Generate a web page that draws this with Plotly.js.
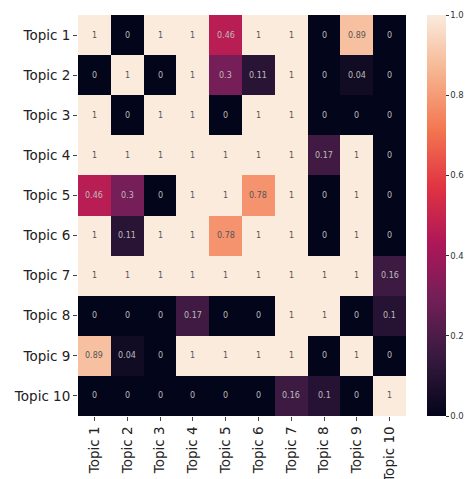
<!DOCTYPE html>
<html>
<head>
<meta charset="utf-8">
<script src="https://cdn.plot.ly/plotly-3.0.1.min.js"></script>
<style>html,body{margin:0;padding:0;background:#fff;}#chart{width:467px;height:479px;}</style>
</head>
<body>
<div id="chart"></div>
<script>
const topics = ["Topic 1","Topic 2","Topic 3","Topic 4","Topic 5","Topic 6","Topic 7","Topic 8","Topic 9","Topic 10"];
const row1  = [1, 0, 1, 1, 0.46, 1, 1, 0, 0.89, 0];
const row2  = [0, 1, 0, 1, 0.3, 0.11, 1, 0, 0.04, 0];
const row3  = [1, 0, 1, 1, 0, 1, 1, 0, 0, 0];
const row4  = [1, 1, 1, 1, 1, 1, 1, 0.17, 1, 0];
const row5  = [0.46, 0.3, 0, 1, 1, 0.78, 1, 0, 1, 0];
const row6  = [1, 0.11, 1, 1, 0.78, 1, 1, 0, 1, 0];
const row7  = [1, 1, 1, 1, 1, 1, 1, 1, 1, 0.16];
const row8  = [0, 0, 0, 0.17, 0, 0, 1, 1, 0, 0.1];
const row9  = [0.89, 0.04, 0, 1, 1, 1, 1, 0, 1, 0];
const row10 = [0, 0, 0, 0, 0, 0, 0.16, 0.1, 0, 1];
const z = [row1,row2,row3,row4,row5,row6,row7,row8,row9,row10];
const cbTicks = [0, 0.2, 0.4, 0.6, 0.8, 1.0];

const rocket = [
  [0.0, "#03051A"], [0.143, "#35193E"], [0.286, "#701F57"], [0.429, "#AD1759"],
  [0.571, "#E13342"], [0.714, "#F37651"], [0.857, "#F6B48F"], [1.0, "#FAEBDD"]
];

const annotations = [];
z.forEach((row, i) => row.forEach((v, j) => {
  annotations.push({
    x: topics[j], y: topics[i], xref: "x", yref: "y",
    text: String(v), showarrow: false,
    font: {family: "DejaVu Sans", size: 8, color: v > 0.6 ? "#555555" : "#bbbbbb"}
  });
}));

const trace = {
  type: "heatmap", x: topics, y: topics, z: z,
  colorscale: rocket, zmin: 0, zmax: 1, xgap: 0, ygap: 0,
  hoverinfo: "skip",
  colorbar: {
    x: 1.064, xanchor: "left", xref: "paper", y: 0.5, yanchor: "middle",
    xpad: 0, ypad: 0,
    len: 1, lenmode: "fraction", thickness: 19, thicknessmode: "pixels",
    outlinewidth: 0, tickvals: cbTicks, ticktext: cbTicks.map(t => t.toFixed(1)),
    ticks: "outside", ticklen: 3, tickwidth: 1, tickcolor: "#333",
    tickfont: {family: "DejaVu Sans", size: 8.5, color: "#333"}
  }
};

const layout = {
  width: 467, height: 479,
  margin: {l: 78, r: 61, t: 15, b: 63, pad: 0, autoexpand: false},
  paper_bgcolor: "#fff", plot_bgcolor: "#fff",
  font: {family: "DejaVu Sans", color: "#222"},
  xaxis: {type: "category", tickangle: -90, ticks: "outside", ticklen: 4, tickcolor: "#444",
          tickfont: {size: 13.5, color: "#222"}, showgrid: false, zeroline: false, automargin: false, showline: false},
  yaxis: {type: "category", autorange: "reversed", ticks: "outside", ticklen: 4, tickcolor: "#444",
          tickfont: {size: 13.5, color: "#222"}, showgrid: false, zeroline: false, automargin: false, showline: false},
  annotations: annotations
};

Plotly.newPlot("chart", [trace], layout, {displayModeBar: false, staticPlot: true});
</script>
</body>
</html>
